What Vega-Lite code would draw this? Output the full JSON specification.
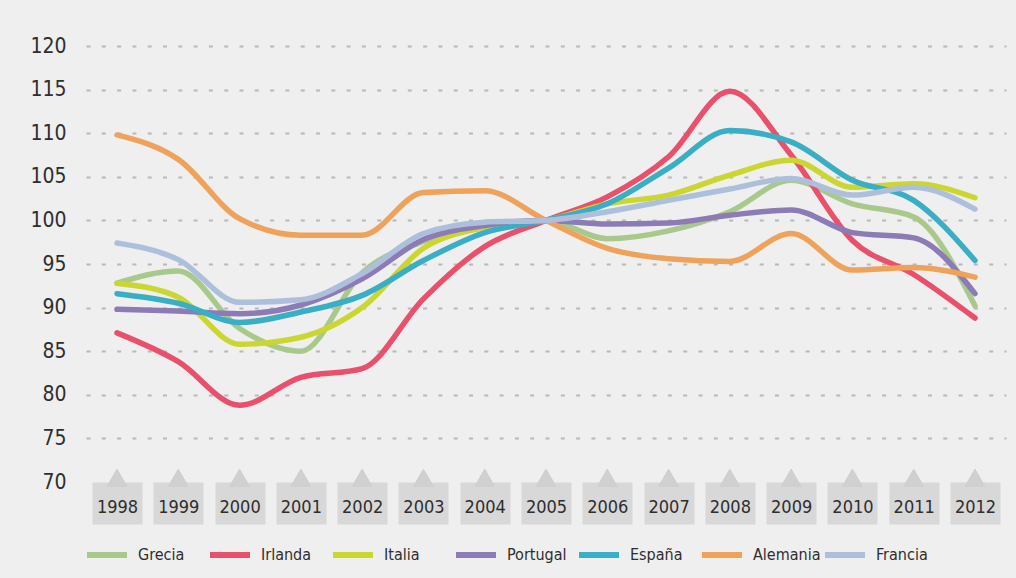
{
  "$schema": "https://vega.github.io/schema/vega-lite/v6.json",
  "width": 920,
  "height": 436,
  "autosize": {"type": "none"},
  "padding": {"left": 86, "top": 46, "right": 10, "bottom": 96},
  "background": "#efefef",
  "config": {
    "view": {"stroke": null},
    "font": "Liberation Sans Narrow, DejaVu Sans Condensed, Roboto, sans-serif"
  },
  "data": {
    "values": [
      {"year": 1998, "pais": "Grecia", "valor": 92.8},
      {"year": 1999, "pais": "Grecia", "valor": 94.2},
      {"year": 2000, "pais": "Grecia", "valor": 87.6},
      {"year": 2001, "pais": "Grecia", "valor": 85.0},
      {"year": 2002, "pais": "Grecia", "valor": 94.0},
      {"year": 2003, "pais": "Grecia", "valor": 97.6},
      {"year": 2004, "pais": "Grecia", "valor": 99.5},
      {"year": 2005, "pais": "Grecia", "valor": 100},
      {"year": 2006, "pais": "Grecia", "valor": 97.9},
      {"year": 2007, "pais": "Grecia", "valor": 98.8},
      {"year": 2008, "pais": "Grecia", "valor": 101.0},
      {"year": 2009, "pais": "Grecia", "valor": 104.6},
      {"year": 2010, "pais": "Grecia", "valor": 101.9},
      {"year": 2011, "pais": "Grecia", "valor": 100.4},
      {"year": 2012, "pais": "Grecia", "valor": 90.2},
      {"year": 1998, "pais": "Irlanda", "valor": 87.1},
      {"year": 1999, "pais": "Irlanda", "valor": 83.8},
      {"year": 2000, "pais": "Irlanda", "valor": 78.8},
      {"year": 2001, "pais": "Irlanda", "valor": 82.0},
      {"year": 2002, "pais": "Irlanda", "valor": 83.0},
      {"year": 2003, "pais": "Irlanda", "valor": 91.0},
      {"year": 2004, "pais": "Irlanda", "valor": 97.0},
      {"year": 2005, "pais": "Irlanda", "valor": 100},
      {"year": 2006, "pais": "Irlanda", "valor": 102.7},
      {"year": 2007, "pais": "Irlanda", "valor": 107.3},
      {"year": 2008, "pais": "Irlanda", "valor": 114.8},
      {"year": 2009, "pais": "Irlanda", "valor": 107.5},
      {"year": 2010, "pais": "Irlanda", "valor": 97.7},
      {"year": 2011, "pais": "Irlanda", "valor": 93.8},
      {"year": 2012, "pais": "Irlanda", "valor": 88.8},
      {"year": 1998, "pais": "Italia", "valor": 92.8},
      {"year": 1999, "pais": "Italia", "valor": 91.2},
      {"year": 2000, "pais": "Italia", "valor": 85.8},
      {"year": 2001, "pais": "Italia", "valor": 86.6},
      {"year": 2002, "pais": "Italia", "valor": 90.0},
      {"year": 2003, "pais": "Italia", "valor": 96.8},
      {"year": 2004, "pais": "Italia", "valor": 99.2},
      {"year": 2005, "pais": "Italia", "valor": 100},
      {"year": 2006, "pais": "Italia", "valor": 101.9},
      {"year": 2007, "pais": "Italia", "valor": 102.9},
      {"year": 2008, "pais": "Italia", "valor": 105.2},
      {"year": 2009, "pais": "Italia", "valor": 106.9},
      {"year": 2010, "pais": "Italia", "valor": 103.8},
      {"year": 2011, "pais": "Italia", "valor": 104.2},
      {"year": 2012, "pais": "Italia", "valor": 102.6},
      {"year": 1998, "pais": "Portugal", "valor": 89.8},
      {"year": 1999, "pais": "Portugal", "valor": 89.6},
      {"year": 2000, "pais": "Portugal", "valor": 89.3},
      {"year": 2001, "pais": "Portugal", "valor": 90.3},
      {"year": 2002, "pais": "Portugal", "valor": 93.3},
      {"year": 2003, "pais": "Portugal", "valor": 97.8},
      {"year": 2004, "pais": "Portugal", "valor": 99.4},
      {"year": 2005, "pais": "Portugal", "valor": 100},
      {"year": 2006, "pais": "Portugal", "valor": 99.6},
      {"year": 2007, "pais": "Portugal", "valor": 99.7},
      {"year": 2008, "pais": "Portugal", "valor": 100.6},
      {"year": 2009, "pais": "Portugal", "valor": 101.2},
      {"year": 2010, "pais": "Portugal", "valor": 98.6},
      {"year": 2011, "pais": "Portugal", "valor": 98.0},
      {"year": 2012, "pais": "Portugal", "valor": 91.6},
      {"year": 1998, "pais": "España", "valor": 91.6},
      {"year": 1999, "pais": "España", "valor": 90.5},
      {"year": 2000, "pais": "España", "valor": 88.3},
      {"year": 2001, "pais": "España", "valor": 89.5},
      {"year": 2002, "pais": "España", "valor": 91.4},
      {"year": 2003, "pais": "España", "valor": 95.4},
      {"year": 2004, "pais": "España", "valor": 98.6},
      {"year": 2005, "pais": "España", "valor": 100},
      {"year": 2006, "pais": "España", "valor": 101.9},
      {"year": 2007, "pais": "España", "valor": 106.0},
      {"year": 2008, "pais": "España", "valor": 110.3},
      {"year": 2009, "pais": "España", "valor": 109.0},
      {"year": 2010, "pais": "España", "valor": 104.6},
      {"year": 2011, "pais": "España", "valor": 102.3},
      {"year": 2012, "pais": "España", "valor": 95.4},
      {"year": 1998, "pais": "Alemania", "valor": 109.8},
      {"year": 1999, "pais": "Alemania", "valor": 107.0},
      {"year": 2000, "pais": "Alemania", "valor": 100.2},
      {"year": 2001, "pais": "Alemania", "valor": 98.3},
      {"year": 2002, "pais": "Alemania", "valor": 98.3},
      {"year": 2003, "pais": "Alemania", "valor": 103.2},
      {"year": 2004, "pais": "Alemania", "valor": 103.4},
      {"year": 2005, "pais": "Alemania", "valor": 100},
      {"year": 2006, "pais": "Alemania", "valor": 96.8},
      {"year": 2007, "pais": "Alemania", "valor": 95.6},
      {"year": 2008, "pais": "Alemania", "valor": 95.3},
      {"year": 2009, "pais": "Alemania", "valor": 98.5},
      {"year": 2010, "pais": "Alemania", "valor": 94.3},
      {"year": 2011, "pais": "Alemania", "valor": 94.6},
      {"year": 2012, "pais": "Alemania", "valor": 93.5},
      {"year": 1998, "pais": "Francia", "valor": 97.4},
      {"year": 1999, "pais": "Francia", "valor": 95.5},
      {"year": 2000, "pais": "Francia", "valor": 90.6},
      {"year": 2001, "pais": "Francia", "valor": 90.9},
      {"year": 2002, "pais": "Francia", "valor": 93.9},
      {"year": 2003, "pais": "Francia", "valor": 98.5},
      {"year": 2004, "pais": "Francia", "valor": 99.8},
      {"year": 2005, "pais": "Francia", "valor": 100},
      {"year": 2006, "pais": "Francia", "valor": 101.0},
      {"year": 2007, "pais": "Francia", "valor": 102.3},
      {"year": 2008, "pais": "Francia", "valor": 103.6},
      {"year": 2009, "pais": "Francia", "valor": 104.8},
      {"year": 2010, "pais": "Francia", "valor": 102.9},
      {"year": 2011, "pais": "Francia", "valor": 103.8},
      {"year": 2012, "pais": "Francia", "valor": 101.3}
    ]
  },
  "layer": [
    {
      "mark": {"type": "line", "interpolate": "monotone", "strokeWidth": 5.5, "strokeCap": "round", "strokeJoin": "round"},
      "encoding": {
        "x": {
          "field": "year", "type": "ordinal",
          "scale": {"type": "point", "padding": 0.506},
          "axis": {
            "title": null,
            "domain": false,
            "grid": false,
            "ticks": true,
            "tickSize": 42,
            "tickWidth": 50,
            "tickColor": "#d8d8d8",
            "labelAngle": 0,
            "labelBaseline": "middle",
            "labelPadding": -17,
            "labelFontSize": 18,
            "labelColor": "#2e2e2e"
          }
        },
        "y": {
          "field": "valor", "type": "quantitative",
          "scale": {"domain": [70, 120], "nice": false, "zero": false},
          "axis": {
            "values": [70, 75, 80, 85, 90, 95, 100, 105, 110, 115, 120],
            "title": null,
            "domain": false,
            "ticks": false,
            "grid": true,
            "gridColor": "#b8b8b8",
            "gridWidth": 2,
            "gridDash": [4, 11.3],
            "gridOpacity": {"condition": {"test": "datum.value < 72", "value": 0}, "value": 1},
            "labelPadding": 20,
            "labelFontSize": 21,
            "labelColor": "#2e2e2e"
          }
        },
        "color": {
          "field": "pais", "type": "nominal",
          "scale": {
            "domain": ["Grecia", "Irlanda", "Italia", "Portugal", "España", "Alemania", "Francia"],
            "range": ["#a9c98c", "#e8506c", "#ccd630", "#8c7bb5", "#3aaec4", "#eea25a", "#aebfdc"]
          },
          "legend": {
            "title": null,
            "orient": "none",
            "legendX": -2,
            "legendY": 486,
            "direction": "horizontal",
            "symbolType": "stroke",
            "symbolSize": 1600,
            "symbolStrokeWidth": 6,
            "labelFontSize": 16,
            "labelColor": "#2e2e2e",
            "labelOffset": 8,
            "columnPadding": -8,
            "gridAlign": "all"
          }
        }
      }
    },
    {
      "mark": {"type": "point", "shape": "triangle-up", "filled": true, "size": 400, "color": "#d0d0d0", "opacity": 1},
      "encoding": {
        "x": {"field": "year", "type": "ordinal"},
        "y": {"datum": 70.5, "type": "quantitative"}
      }
    }
  ]
}
